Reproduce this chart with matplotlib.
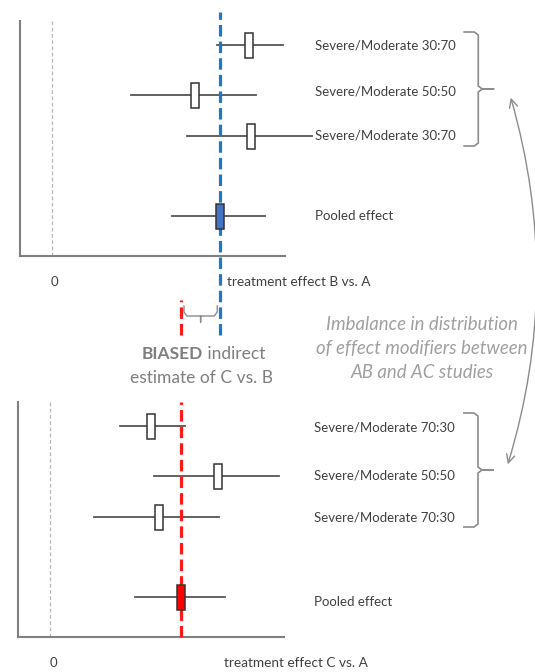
import matplotlib.pyplot as plt
from matplotlib.patches import Rectangle, FancyArrowPatch, PathPatch
from matplotlib.path import Path

plt.rcParams['font.family'] = ['Lato', 'DejaVu Sans']

# Study estimates (effect units, 0 = grey dashed line)
ab_labels = ["Severe/Moderate 30:70", "Severe/Moderate 50:50", "Severe/Moderate 30:70", "Pooled effect"]
ab_est = [19.8, 14.4, 20.0, 16.9]
ab_lo = [16.6, 7.9, 13.6, 12.1]
ab_hi = [23.2, 20.5, 26.1, 21.4]

ac_labels = ["Severe/Moderate 70:30", "Severe/Moderate 50:50", "Severe/Moderate 70:30", "Pooled effect"]
ac_est = [10.1, 16.8, 10.9, 13.1]
ac_lo = [7.0, 10.4, 4.4, 8.5]
ac_hi = [13.5, 22.9, 16.9, 17.5]

# layout
W, H = 535, 672
row_y = [211, 161, 120, 40]
txt_col = '#404040'
grey = '#8c8c8c'


def px(x, y):
	return (x / W, 1 - y / H)


def brace(ax, x0, x1, xtip, ytop, ybot, ymid):
	verts = [(x0, ytop), (x1 - 0.4, ytop), (x1, ytop - 3), (x1, ymid + 3), (x1 + 0.4, ymid),
			 (xtip, ymid), (x1 + 0.4, ymid), (x1, ymid - 3), (x1, ybot + 3), (x1 - 0.4, ybot), (x0, ybot)]
	codes = [Path.MOVETO] + [Path.LINETO] * (len(verts) - 1)
	ax.add_patch(PathPatch(Path(verts, codes), fill=False, ec=grey, lw=1.2, clip_on=False))


def panel(ax, labels, est, lo, hi, pooled_fc, ref_col, xlabel, xlabel_x, label_dy, ref_ext):
	ax.set_xlim(-3.2, 23.4)
	ax.set_ylim(0, 235)
	ax.set_xticks([])
	ax.set_yticks([])
	for s in ['top', 'right']:
		ax.spines[s].set_visible(False)
	for s in ['left', 'bottom']:
		ax.spines[s].set_color('#808080')
		ax.spines[s].set_linewidth(1.5)
	ax.axvline(0, color='#b8b8b8', lw=0.9, ls=(0, (3, 2)))
	for i in range(len(est)):
		y = row_y[i]
		ax.plot([lo[i], hi[i]], [y, y], color='#555555', lw=1.3, clip_on=False, zorder=2)
		fc = pooled_fc if i == len(est) - 1 else 'white'
		ax.add_patch(Rectangle((est[i] - 0.4, y - 12.5), 0.8, 25, fc=fc, ec='#333333', lw=1.1,
							   zorder=4, clip_on=False))
		ax.text(26.4, y + label_dy[i], labels[i], color=txt_col, fontsize=9.5, va='center',
				clip_on=False)
	for y0, y1 in ref_ext:
		ax.plot([est[-1], est[-1]], [y0, y1], color=ref_col, lw=2.3, dashes=(3.6, 1.6),
				clip_on=False, zorder=3)
	ax.text(0.3, -26, "0", color=txt_col, fontsize=9.5, ha='center', va='center')
	ax.text(xlabel_x, -26, xlabel, color=txt_col, fontsize=9.8, ha='left', va='center')
	brace(ax, 41.3, 42.8, 44.4, 224, 110, 167)


fig = plt.figure(figsize=(W / 100, H / 100), dpi=100)
ax1 = fig.add_axes([20 / W, (H - 256) / H, 265 / W, 235 / H])
ax2 = fig.add_axes([18 / W, (H - 637) / H, 266 / W, 235 / H])

panel(ax1, ab_labels, ab_est, ab_lo, ab_hi, '#4472C4', '#1f77c9', "treatment effect B vs. A", 17.6,
	  [0, 3, 0, 0], [(-79, 244)])
panel(ax2, ac_labels, ac_est, ac_lo, ac_hi, '#ff0000', '#ff1a1a', "treatment effect C vs. A", 17.4,
	  [-2, 0, -1, -5], [(0, 235), (302, 337)])

# small brace between the two pooled estimates
fig.canvas.draw()
xr = ax2.transData.transform((ac_est[-1], 0))[0] / W
xb = ax1.transData.transform((ab_est[-1], 0))[0] / W
xm = (xr + xb) / 2
yb = 1 - 316 / H
d = 4 / H
e = 3 / W
fig.add_artist(plt.Line2D([xr + e, xr + e, xr + 2 * e, xm - 2 * e, xm, xm,
						   xm, xm + 2 * e, xb - 2 * e, xb - e, xb - e],
						  [yb + 2.5 * d, yb + d, yb, yb, yb - 0.0, yb - d * 1.5,
						   yb, yb, yb, yb + d, yb + 2.5 * d],
						  transform=fig.transFigure, color=grey, lw=1.0))

# middle annotations
t1 = fig.text(*px(142, 354), "BIASED", color='#7f7f7f', fontsize=12.5, weight='bold',
			  ha='left', va='center')
ax1.annotate(" indirect", xy=(1, 0), xycoords=t1, color='#7f7f7f', fontsize=12.5,
			 ha='left', va='bottom', annotation_clip=False)
fig.text(*px(201, 378), "estimate of C vs. B", color='#7f7f7f', fontsize=12.5, ha='center',
		 va='center')
fig.text(*px(422, 348), "Imbalance in distribution\nof effect modifiers between\nAB and AC studies",
		 color='#a0a0a0', fontsize=13.4, style='italic', ha='center', va='center',
		 multialignment='center', linespacing=1.5)

# curved double arrow linking the two sets of studies
fig.add_artist(FancyArrowPatch(px(507, 467), px(510, 95), transform=fig.transFigure,
							   arrowstyle='<->,head_length=6,head_width=3',
							   connectionstyle='arc3,rad=0.15', color=grey, lw=1.0))

fig.savefig('out.png', dpi=100, facecolor='white')
